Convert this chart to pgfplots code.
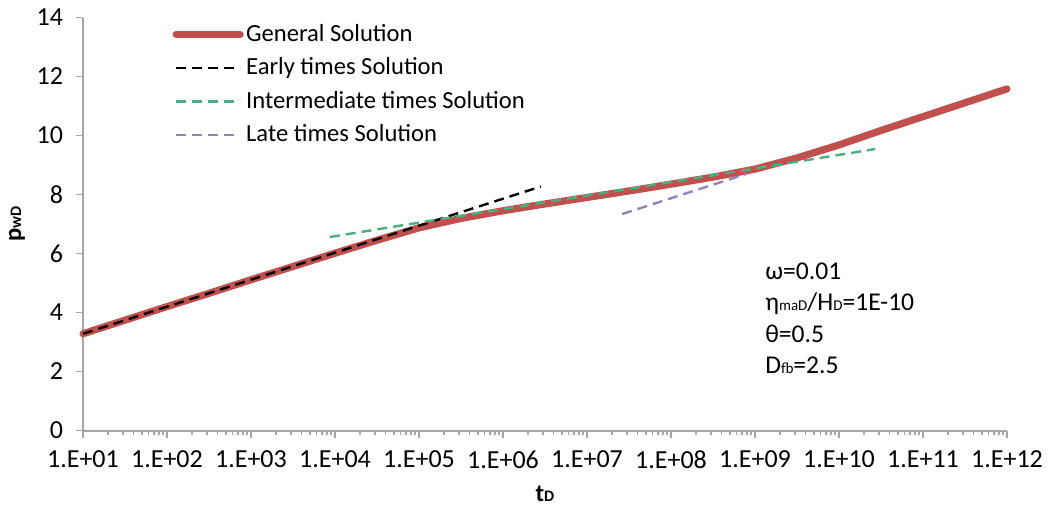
\documentclass[border=0pt]{standalone}
\usepackage{fontspec}
\setmainfont{Carlito}
\usepackage{pgfplots}
\pgfplotsset{compat=1.18}

\definecolor{gensol}{RGB}{192,80,77}
\definecolor{intsol}{RGB}{75,175,125}
\definecolor{latesol}{RGB}{150,130,185}
\definecolor{axgray}{RGB}{165,165,165}

\begin{document}
\begin{tikzpicture}
\begin{axis}[
  scale only axis,
  width=462pt, height=206.5pt,
  xmode=log,
  xmin=1e1, xmax=1e12,
  ymin=0, ymax=14,
  ytick={0,2,...,14},
  xtick={1e1,1e2,1e3,1e4,1e5,1e6,1e7,1e8,1e9,1e10,1e11,1e12},
  xticklabels={1.E+01,1.E+02,1.E+03,1.E+04,1.E+05,1.E+06,1.E+07,1.E+08,1.E+09,1.E+10,1.E+11,1.E+12},
  minor xtick={
    2e1,3e1,4e1,5e1,6e1,7e1,8e1,9e1,
    2e2,3e2,4e2,5e2,6e2,7e2,8e2,9e2,
    2e3,3e3,4e3,5e3,6e3,7e3,8e3,9e3,
    2e4,3e4,4e4,5e4,6e4,7e4,8e4,9e4,
    2e5,3e5,4e5,5e5,6e5,7e5,8e5,9e5,
    2e6,3e6,4e6,5e6,6e6,7e6,8e6,9e6,
    2e7,3e7,4e7,5e7,6e7,7e7,8e7,9e7,
    2e8,3e8,4e8,5e8,6e8,7e8,8e8,9e8,
    2e9,3e9,4e9,5e9,6e9,7e9,8e9,9e9,
    2e10,3e10,4e10,5e10,6e10,7e10,8e10,9e10,
    2e11,3e11,4e11,5e11,6e11,7e11,8e11,9e11},
  axis x line*=bottom,
  axis y line*=left,
  axis line style={axgray, line width=1pt},
  tick style={axgray, line width=0.8pt},
  tick align=outside,
  major tick length=3.5pt,
  minor tick length=2pt,
  font=\fontsize{12.3}{14.5}\selectfont,
  /pgf/number format/assume math mode=true,
  tick label style={black, font=\fontsize{13}{15}\selectfont},
  yticklabel style={xshift=-3pt},
  xticklabel style={yshift=-3pt},
  xlabel={\textbf{t}{\fontsize{8}{9}\selectfont\textbf{D}}},
  ylabel={\textbf{p}{\fontsize{8}{9}\selectfont\textbf{wD}}},
  xlabel style={at={(axis description cs:0.5,-0.154)}, anchor=center},
  ylabel style={at={(axis description cs:-0.0714,0.5)}, anchor=center},
  clip=false,
  legend cell align=left,
  legend style={
    at={(rel axis cs:0.090,1.0)}, anchor=north west,
    draw=none, fill=none,
    font=\fontsize{12.3}{14.5}\selectfont,
    row sep=4.3pt,
    nodes={inner sep=1.2pt},
  },
  legend image code/.code={\draw[#1] (0pt,0pt) -- (32pt,0pt);},
]

% full solution of the dimensionless wellbore pressure
\addplot[gensol, line width=3.6pt, line cap=round, line join=round] coordinates {
  (1e1,3.28) (3.162e1,3.74) (1e2,4.20) (3.162e2,4.65) (1e3,5.11)
  (3.162e3,5.56) (1e4,6.01) (3.162e4,6.45) (1e5,6.87) (3.162e5,7.19)
  (1e6,7.45) (3.162e6,7.68) (1e7,7.90) (3.162e7,8.12) (1e8,8.35)
  (3.162e8,8.59) (1e9,8.86) (3.162e9,9.24) (1e10,9.68) (3.162e10,10.17)
  (1e11,10.64) (3.162e11,11.11) (1e12,11.58)
};
\addlegendentry{General Solution}

% asymptotes
\addplot[black, line width=1.2pt, dash pattern=on 5pt off 3pt] coordinates {
  (1e1,3.28) (2.82e6,8.27)
};
\addlegendentry{Early times Solution}

\addplot[intsol, line width=1.2pt, dash pattern=on 5pt off 3pt] coordinates {
  (8.71e3,6.56) (2.69e10,9.54)
};
\addlegendentry{Intermediate times Solution}

\addplot[latesol, line width=1.2pt, dash pattern=on 5pt off 3pt] coordinates {
  (2.63e7,7.34) (7.94e8,8.70)
};
\addlegendentry{Late times Solution}

\node[anchor=north west, align=left, inner sep=0pt,
      font=\fontsize{12.8}{15.75}\selectfont]
  at (rel axis cs:0.738,0.408)
  {ω=0.01\\
   η{\fontsize{7.5}{8}\selectfont maD}/H{\fontsize{7.5}{8}\selectfont D}=1E-10\\
   θ=0.5\\
   D{\fontsize{7.5}{8}\selectfont fb}=2.5};
\end{axis}
\path[use as bounding box] (-41.5pt,-39.75pt) rectangle (483.5pt,215.25pt);
\end{tikzpicture}
\end{document}
